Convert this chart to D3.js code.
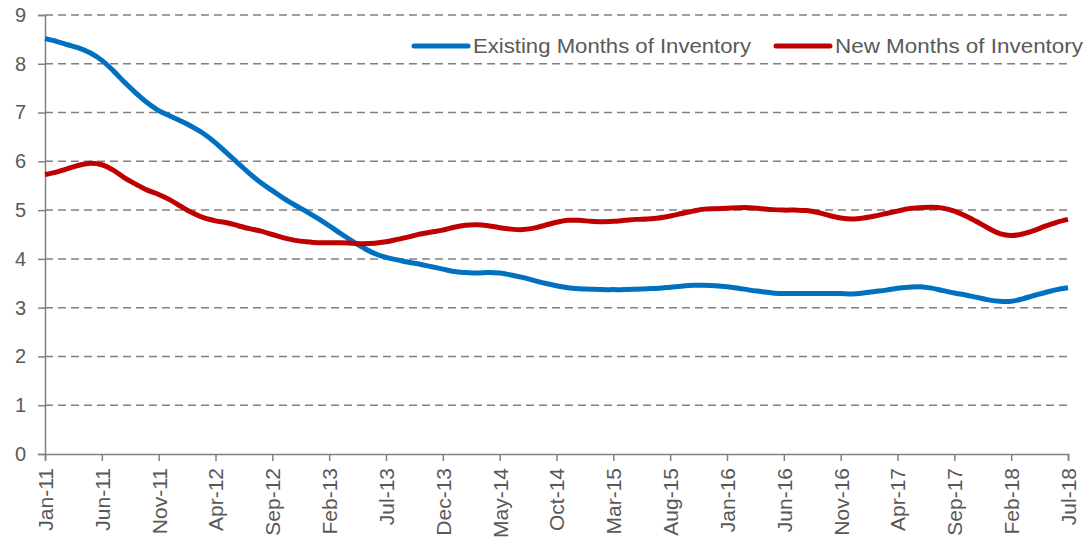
<!DOCTYPE html>
<html>
<head>
<meta charset="utf-8">
<script src="https://cdn.jsdelivr.net/npm/d3@7"></script>
<style>
  body { margin: 0; background: #fff; }
  text { font-family: "Liberation Sans", Arial, sans-serif; fill: #595959; }
</style>
</head>
<body>
<svg id="chart" width="1092" height="546"></svg>
<script>
// monthly, Jan-11 .. Jul-18
const startYear = 2011;
const monthNames = ['Jan','Feb','Mar','Apr','May','Jun','Jul','Aug','Sep','Oct','Nov','Dec'];

const existing = [
	8.52, 8.46, 8.39, 8.32, 8.22, 8.07, 7.86, 7.62, 7.40, 7.20,
	7.04, 6.93, 6.82, 6.70, 6.56, 6.38, 6.17, 5.96, 5.75, 5.56,
	5.40, 5.24, 5.10, 4.97, 4.83, 4.68, 4.52, 4.37, 4.23, 4.11,
	4.03, 3.98, 3.93, 3.89, 3.84, 3.79, 3.74, 3.72, 3.71, 3.72,
	3.71, 3.67, 3.62, 3.56, 3.50, 3.45, 3.41, 3.39, 3.38, 3.37,
	3.37, 3.37, 3.38, 3.39, 3.40, 3.42, 3.44, 3.46, 3.46, 3.45,
	3.43, 3.40, 3.36, 3.33, 3.30, 3.29, 3.29, 3.29, 3.29, 3.29,
	3.29, 3.28, 3.30, 3.33, 3.36, 3.40, 3.42, 3.43, 3.40, 3.35,
	3.30, 3.26, 3.21, 3.16, 3.13, 3.13, 3.18, 3.25, 3.31, 3.37,
	3.41
];

const newHomes = [
	5.73, 5.78, 5.85, 5.92, 5.96, 5.93, 5.82, 5.66, 5.53, 5.41,
	5.32, 5.21, 5.07, 4.94, 4.84, 4.78, 4.74, 4.68, 4.62, 4.57,
	4.50, 4.43, 4.38, 4.35, 4.33, 4.33, 4.33, 4.32, 4.31, 4.32,
	4.35, 4.40, 4.45, 4.51, 4.55, 4.59, 4.65, 4.69, 4.70, 4.68,
	4.64, 4.61, 4.60, 4.63, 4.69, 4.75, 4.79, 4.79, 4.77, 4.76,
	4.77, 4.79, 4.81, 4.82, 4.84, 4.88, 4.93, 4.98, 5.02, 5.03,
	5.04, 5.05, 5.05, 5.03, 5.01, 5.00, 5.00, 4.99, 4.95, 4.89,
	4.84, 4.82, 4.84, 4.88, 4.93, 4.98, 5.03, 5.05, 5.06, 5.04,
	4.98, 4.88, 4.76, 4.63, 4.52, 4.48, 4.51, 4.58, 4.67, 4.75,
	4.81
];

const yTicks = [0, 1, 2, 3, 4, 5, 6, 7, 8, 9];
const xTickEvery = 5;

const seriesNames = ['Existing Months of Inventory', 'New Months of Inventory'];
const seriesColors = ['#0070C0', '#C00000'];

const label = (i) => monthNames[i % 12] + '-' + String((startYear + Math.floor(i / 12)) % 100).padStart(2, '0');

const svg = d3.select('#chart');
const x = d3.scaleLinear().domain([0, existing.length - 1]).range([45, 1068]);
const y = d3.scaleLinear().domain([0, 9]).range([454, 15]);

// gridlines
svg.append('g')
	.selectAll('line')
	.data(yTicks.filter((d) => d > 0))
	.join('line')
	.attr('x1', x(0)).attr('x2', x(existing.length - 1))
	.attr('y1', (d) => y(d)).attr('y2', (d) => y(d))
	.attr('stroke', '#808080')
	.attr('stroke-width', 1.5)
	.attr('stroke-dasharray', '8,5');

// y axis
let yAxis = svg.append('g')
	.attr('transform', `translate(${x(0)},0)`)
	.call(d3.axisLeft(y).tickValues(yTicks).tickSize(7).tickPadding(12).tickFormat(d3.format('d')));
yAxis.attr('font-size', null).attr('font-family', null);
yAxis.select('.domain').attr('stroke', '#808080').attr('stroke-width', 1.5);
yAxis.selectAll('.tick line').attr('stroke', '#808080').attr('stroke-width', 1.5);
yAxis.selectAll('.tick text').style('font-size', '20px').attr('fill', '#595959');

// x axis
let xIdx = d3.range(0, existing.length, xTickEvery);
let xAxis = svg.append('g')
	.attr('transform', `translate(0,${y(0)})`)
	.call(d3.axisBottom(x).tickValues(xIdx).tickSize(7).tickFormat(label));
xAxis.attr('font-size', null).attr('font-family', null);
xAxis.select('.domain').attr('stroke', '#808080').attr('stroke-width', 1.5);
xAxis.selectAll('.tick line').attr('stroke', '#808080').attr('stroke-width', 1.5);
xAxis.selectAll('.tick text')
	.style('font-size', '21px').attr('fill', '#595959')
	.attr('text-anchor', 'end')
	.attr('transform', 'rotate(-90)')
	.attr('x', -14).attr('y', 0).attr('dy', '0.35em');

// lines
let line = d3.line()
	.x((d, i) => x(i))
	.y((d) => y(d))
	.curve(d3.curveCatmullRom.alpha(0.5));

[existing, newHomes].forEach(function (s, k) {
	svg.append('path')
		.datum(s)
		.attr('fill', 'none')
		.attr('stroke', seriesColors[k])
		.attr('stroke-width', 5)
		.attr('stroke-linejoin', 'round')
		.attr('d', line);
});

// legend
let legend = svg.append('g');
let legendX = [414, 776];
seriesNames.forEach(function (name, k) {
	legend.append('line')
		.attr('x1', legendX[k]).attr('x2', legendX[k] + 54)
		.attr('y1', 46).attr('y2', 46)
		.attr('stroke', seriesColors[k])
		.attr('stroke-width', 5)
		.attr('stroke-linecap', 'round');
	legend.append('text')
		.attr('x', legendX[k] + 59).attr('y', 46).attr('dy', '0.35em')
		.style('font-size', '21px')
		.attr('textLength', k === 0 ? 278 : 248)
		.attr('lengthAdjust', 'spacingAndGlyphs')
		.text(name);
});
</script>
</body>
</html>
